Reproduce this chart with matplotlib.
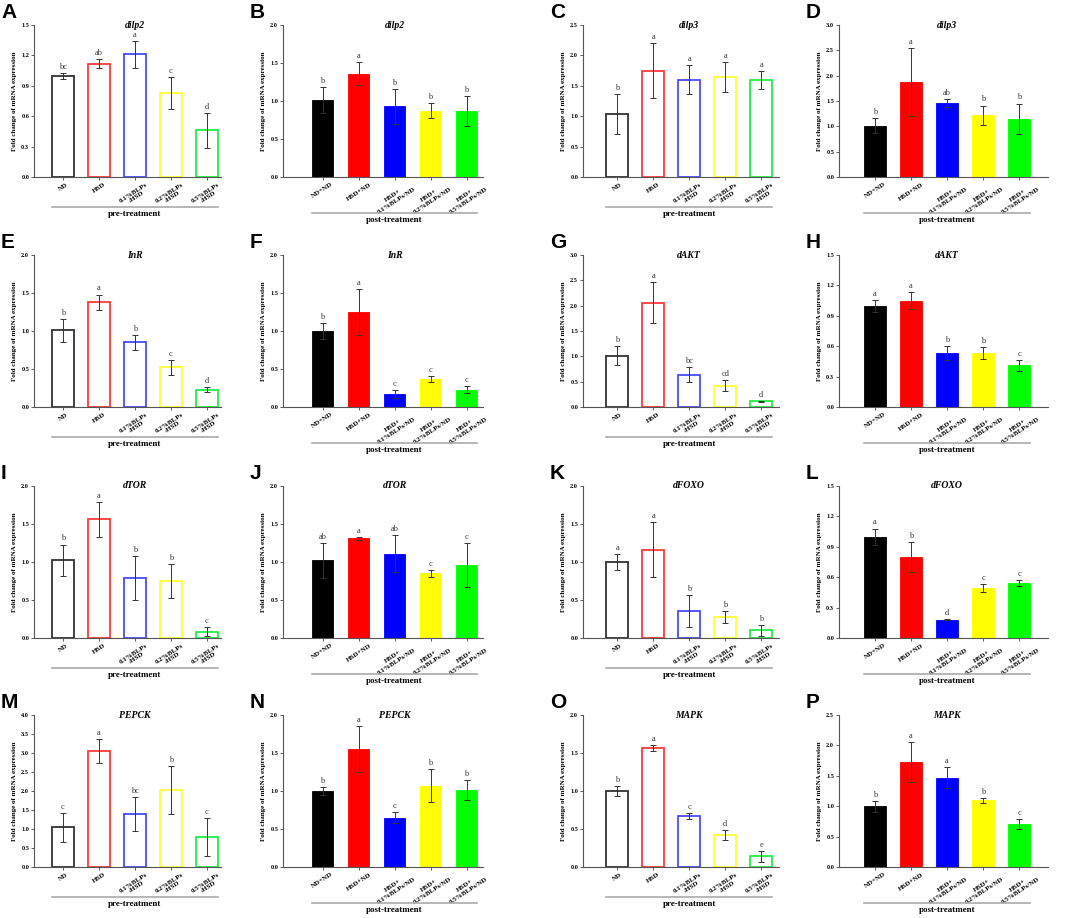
import matplotlib
matplotlib.use("Agg")
import matplotlib.pyplot as plt
from matplotlib.transforms import blended_transform_factory

plt.rcParams['font.family'] = ['Liberation Serif', 'DejaVu Serif']

# group labels
pre_groups = ['ND', 'HSD', '0.1%BLPs\n/HSD', '0.2%BLPs\n/HSD', '0.5%BLPs\n/HSD']
post_groups = ['ND+ND', 'HSD+ND', 'HSD+\n0.1%BLPs/ND', 'HSD+\n0.2%BLPs/ND', 'HSD+\n0.5%BLPs/ND']

# values (mean, error, letters)
dilp2_pre = [1.00, 1.12, 1.21, 0.83, 0.46]
dilp2_pre_err = [0.03, 0.04, 0.13, 0.16, 0.17]
dilp2_pre_sig = ['bc', 'ab', 'a', 'c', 'd']

dilp2_post = [1.01, 1.36, 0.93, 0.87, 0.87]
dilp2_post_err = [0.17, 0.15, 0.23, 0.10, 0.20]
dilp2_post_sig = ['b', 'a', 'b', 'b', 'b']

dilp3_pre = [1.04, 1.75, 1.60, 1.64, 1.59]
dilp3_pre_err = [0.33, 0.45, 0.24, 0.25, 0.15]
dilp3_pre_sig = ['b', 'a', 'a', 'a', 'a']

dilp3_post = [1.01, 1.88, 1.46, 1.22, 1.15]
dilp3_post_err = [0.15, 0.67, 0.08, 0.19, 0.30]
dilp3_post_sig = ['b', 'a', 'ab', 'b', 'b']

inr_pre = [1.01, 1.38, 0.85, 0.52, 0.23]
inr_pre_err = [0.15, 0.10, 0.10, 0.10, 0.03]
inr_pre_sig = ['b', 'a', 'b', 'c', 'd']

inr_post = [1.00, 1.25, 0.17, 0.37, 0.23]
inr_post_err = [0.10, 0.30, 0.05, 0.04, 0.05]
inr_post_sig = ['b', 'a', 'c', 'c', 'c']

dakt_pre = [1.01, 2.06, 0.64, 0.42, 0.11]
dakt_pre_err = [0.19, 0.41, 0.15, 0.11, 0.01]
dakt_pre_sig = ['b', 'a', 'bc', 'cd', 'd']

dakt_post = [1.00, 1.05, 0.53, 0.53, 0.41]
dakt_post_err = [0.06, 0.08, 0.07, 0.06, 0.05]
dakt_post_sig = ['a', 'a', 'b', 'b', 'c']

dtor_pre = [1.02, 1.56, 0.79, 0.75, 0.08]
dtor_pre_err = [0.21, 0.23, 0.29, 0.22, 0.06]
dtor_pre_sig = ['b', 'a', 'b', 'b', 'c']

dtor_post = [1.02, 1.31, 1.11, 0.85, 0.96]
dtor_post_err = [0.23, 0.02, 0.24, 0.05, 0.29]
dtor_post_sig = ['ab', 'a', 'ab', 'c', 'c']

dfoxo_pre = [1.00, 1.16, 0.35, 0.28, 0.10]
dfoxo_pre_err = [0.11, 0.36, 0.21, 0.08, 0.07]
dfoxo_pre_sig = ['a', 'a', 'b', 'b', 'b']

dfoxo_post = [1.00, 0.80, 0.18, 0.49, 0.54]
dfoxo_post_err = [0.08, 0.15, 0.005, 0.04, 0.03]
dfoxo_post_sig = ['a', 'b', 'd', 'c', 'c']

pepck_pre = [1.05, 3.05, 1.40, 2.03, 0.79]
pepck_pre_err = [0.38, 0.32, 0.45, 0.63, 0.51]
pepck_pre_sig = ['c', 'a', 'bc', 'b', 'c']

pepck_post = [1.00, 1.55, 0.65, 1.07, 1.01]
pepck_post_err = [0.05, 0.30, 0.07, 0.22, 0.13]
pepck_post_sig = ['b', 'a', 'c', 'b', 'b']

mapk_pre = [1.00, 1.57, 0.67, 0.42, 0.14]
mapk_pre_err = [0.06, 0.04, 0.04, 0.07, 0.07]
mapk_pre_sig = ['b', 'a', 'c', 'd', 'e']

mapk_post = [1.00, 1.72, 1.47, 1.10, 0.71]
mapk_post_err = [0.09, 0.33, 0.17, 0.04, 0.08]
mapk_post_sig = ['b', 'a', 'a', 'b', 'c']

# (letter, gene, kind, mean, err, sig, ymax, ystep)
panels = [
    ('A', 'dilp2', 'pre', dilp2_pre, dilp2_pre_err, dilp2_pre_sig, 1.5, 0.3),
    ('B', 'dilp2', 'post', dilp2_post, dilp2_post_err, dilp2_post_sig, 2.0, 0.5),
    ('C', 'dilp3', 'pre', dilp3_pre, dilp3_pre_err, dilp3_pre_sig, 2.5, 0.5),
    ('D', 'dilp3', 'post', dilp3_post, dilp3_post_err, dilp3_post_sig, 3.0, 0.5),
    ('E', 'InR', 'pre', inr_pre, inr_pre_err, inr_pre_sig, 2.0, 0.5),
    ('F', 'InR', 'post', inr_post, inr_post_err, inr_post_sig, 2.0, 0.5),
    ('G', 'dAKT', 'pre', dakt_pre, dakt_pre_err, dakt_pre_sig, 3.0, 0.5),
    ('H', 'dAKT', 'post', dakt_post, dakt_post_err, dakt_post_sig, 1.5, 0.3),
    ('I', 'dTOR', 'pre', dtor_pre, dtor_pre_err, dtor_pre_sig, 2.0, 0.5),
    ('J', 'dTOR', 'post', dtor_post, dtor_post_err, dtor_post_sig, 2.0, 0.5),
    ('K', 'dFOXO', 'pre', dfoxo_pre, dfoxo_pre_err, dfoxo_pre_sig, 2.0, 0.5),
    ('L', 'dFOXO', 'post', dfoxo_post, dfoxo_post_err, dfoxo_post_sig, 1.5, 0.3),
    ('M', 'PEPCK', 'pre', pepck_pre, pepck_pre_err, pepck_pre_sig, 4.0, 0.5),
    ('N', 'PEPCK', 'post', pepck_post, pepck_post_err, pepck_post_sig, 2.0, 0.5),
    ('O', 'MAPK', 'pre', mapk_pre, mapk_pre_err, mapk_pre_sig, 2.0, 0.5),
    ('P', 'MAPK', 'post', mapk_post, mapk_post_err, mapk_post_sig, 2.5, 0.5),
]

pre_edge = ['#333333', '#ff3a3a', '#4a4aff', '#ffff33', '#22ee44']
post_fill = ['#000000', '#ff0000', '#0000ff', '#ffff00', '#00ff00']

W, H = 1065, 918
col_left = [34, 283, 583, 839]
col_xlim = [(-0.8, 4.4), (-1.1, 4.45), (-0.95, 4.5), (-1.0, 4.8)]
row_top = [25, 255, 486, 715]
ax_h = 152
unit = 36

fig = plt.figure(figsize=(W / 100, H / 100), dpi=100)

for i, (letter, gene, kind, mean, err, sig, ymax, ystep) in enumerate(panels):
    r, c = divmod(i, 4)
    x0, x1 = col_xlim[c]
    ax_w = (x1 - x0) * unit
    ax = fig.add_axes([col_left[c] / W, 1 - (row_top[r] + ax_h) / H, ax_w / W, ax_h / H])
    xs = range(len(mean))
    if kind == 'pre':
        ax.bar(xs, mean, width=0.6, facecolor='white', edgecolor=pre_edge, linewidth=1.3, zorder=2)
        labels = pre_groups
        group_name = 'pre-treatment'
        line_y, text_y = -0.2, -0.215
    else:
        ax.bar(xs, mean, width=0.6, color=post_fill, edgecolor=post_fill, linewidth=0.6, zorder=2)
        labels = post_groups
        group_name = 'post-treatment'
        line_y, text_y = -0.235, -0.255
    ax.errorbar(xs, mean, yerr=err, fmt='none', ecolor='#333333', elinewidth=0.7,
                capsize=2, capthick=0.7, zorder=3)
    for x, m, e, s in zip(xs, mean, err, sig):
        ax.annotate(s, (x, m + e), xytext=(0, 1.5), textcoords='offset points',
                    ha='center', va='bottom', fontsize=6, color='#333333')

    ax.set_xlim(x0, x1)
    ax.set_ylim(0, ymax)
    n_ticks = int(round(ymax / ystep)) + 1
    ax.set_yticks([k * ystep for k in range(n_ticks)])
    ax.set_yticklabels(['%.1f' % (k * ystep) for k in range(n_ticks)], fontsize=4.5, fontweight='bold')
    ax.set_xticks(list(xs))
    ax.set_xticklabels(labels, rotation=33, fontsize=5, fontweight='bold')
    ax.tick_params(length=2, width=0.6, pad=1.5, colors='#444444', labelcolor='black')
    for side in ['top', 'right']:
        ax.spines[side].set_visible(False)
    for side in ['left', 'bottom']:
        ax.spines[side].set_linewidth(0.8)
        ax.spines[side].set_color('#555555')
    ax.set_ylabel('Fold change of mRNA expression', fontsize=5, fontweight='bold', labelpad=3)

    trans = blended_transform_factory(ax.transData, ax.transAxes)
    ax.text(2, 1.0, gene, transform=trans, ha='center', va='center',
            fontsize=7, fontweight='bold', fontstyle='italic')
    ax.plot([-0.3, 4.3], [line_y, line_y], transform=trans, color='#aaaaaa', lw=1.2, clip_on=False)
    ax.text(2, text_y, group_name, transform=trans, ha='center', va='top',
            fontsize=6.5, fontweight='bold')

    fig.text((col_left[c] - 33) / W, 1 - (row_top[r] - 22) / H, letter,
             ha='left', va='top', fontsize=15, fontweight='bold', family='Liberation Sans')

fig.savefig('out.png', dpi=100)
